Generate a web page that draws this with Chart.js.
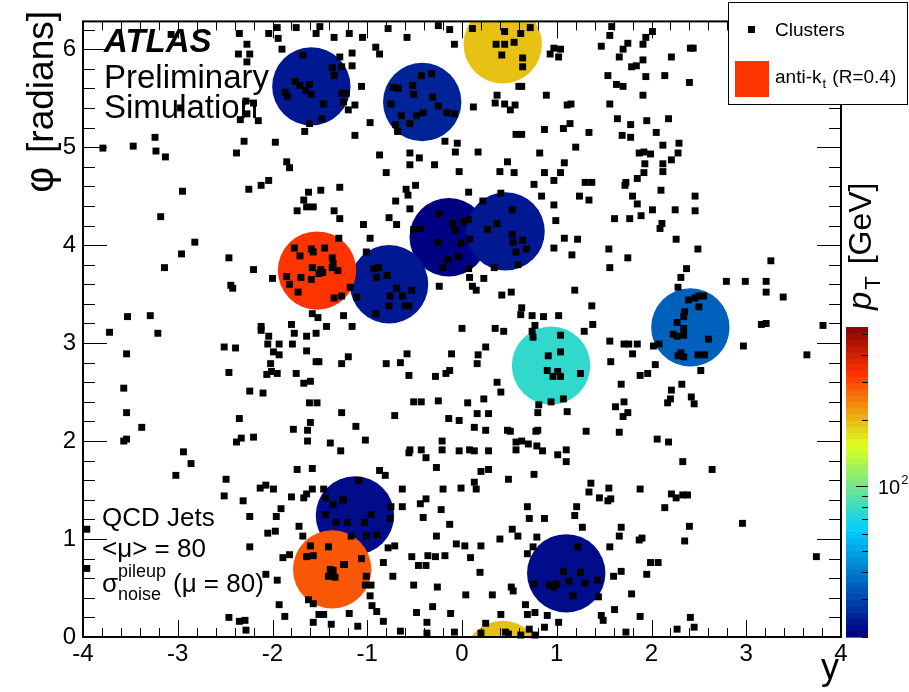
<!DOCTYPE html>
<html>
<head>
<meta charset="utf-8">
<script src="https://cdn.jsdelivr.net/npm/chart.js@4"></script>
<style>
  html, body { margin: 0; padding: 0; background: #fff; }
  #wrap { width: 909px; height: 692px; position: relative; }
</style>
</head>
<body>
<div id="wrap"><canvas id="c" width="909" height="692"></canvas></div>
<script>
// Axis tick values
const xTicks = [-4, -3, -2, -1, 0, 1, 2, 3, 4];
const phiTicks = [0, 1, 2, 3, 4, 5, 6];
const ptTicks = [20, 30, 40, 50, 60, 70, 80, 90, 100, 200, 300, 400, 500];
const ptRange = [20, 540];

// Jets: rapidity, azimuth and transverse momentum [GeV]
const jetY   = [-1.59, -0.42, 0.43, -1.53, -0.77, -0.14, 0.46, 0.94, 2.41, -1.13, -1.37, 1.10];
const jetPhi = [ 5.62,  5.46, 6.05,  3.74,  3.60,  4.08, 4.14, 2.77, 3.16,  1.24,  0.69, 0.65];
const jetPt  = [ 23.2,  24.8,  191,   324,  23.4,  20.5, 24.0, 76.0, 34.5,  22.4,   284, 22.4];
const jetR = 0.4;

// Topo-clusters: [rapidity, azimuth]
const clusterPoints = [
[-1.95,6.22],[-1.75,6.22],[-1.50,6.23],[-2.35,6.16],[-2.04,6.16],[-1.94,6.11],[-1.54,6.16],[-1.35,6.12],
[-3.07,6.15],[-2.27,6.05],[-2.36,5.95],[-2.24,5.95],[-1.90,6.00],[-2.27,5.87],[-1.68,5.94],[-1.29,5.92],
[-1.37,5.81],[-1.27,5.82],[-1.35,5.73],[-1.76,5.67],[-1.71,5.63],[-1.61,5.64],[-1.65,5.58],[-1.59,5.54],
[-1.87,5.56],[-1.84,5.52],[-1.27,5.55],[-1.46,5.44],[-1.25,5.46],[-1.48,5.29],[-1.61,5.24],[-1.66,5.16],
[-2.28,5.47],[-2.20,5.45],[-2.27,5.34],[-2.34,5.28],[-2.15,5.27],[-2.97,5.40],[-3.24,5.10],[-3.47,5.01],
[-3.79,4.99],[-3.23,4.96],[-3.13,4.90],[-2.30,5.06],[-2.38,4.94],[-1.97,5.05],[-1.85,4.85],[-1.82,4.79],
[-2.95,4.55],[-2.25,4.57],[-2.12,4.61],[-2.04,4.66],[-1.62,4.54],[-1.49,4.56],[-1.29,4.59],[-1.67,4.46],
[-1.64,4.39],[-1.57,4.39],[-1.74,4.35],[-1.35,4.35],[-1.29,4.27],[-3.18,4.29],
[-0.78,6.21],[-0.25,6.24],[-0.13,6.20],[0.11,6.21],[0.45,6.18],[0.62,6.16],[0.72,6.22],[-1.19,6.16],
[-1.05,6.12],[-0.58,6.12],[-0.08,6.05],[0.36,6.05],[0.45,6.05],[0.55,6.07],[0.42,5.94],[0.64,5.91],
[0.64,5.82],[-0.91,6.02],[-0.87,5.95],[-1.16,5.96],[-1.16,5.83],[0.97,6.01],[1.04,6.00],[0.93,5.95],
[1.02,5.92],[-0.43,5.73],[-0.32,5.75],[-0.52,5.63],[-0.73,5.61],[-0.67,5.60],[-0.51,5.54],[-0.31,5.51],
[-0.25,5.42],[-0.75,5.44],[-0.41,5.35],[-0.48,5.32],[-0.16,5.35],[-0.08,5.34],[-0.64,5.32],[-0.55,5.24],
[-0.70,5.23],[-0.68,5.16],[-1.06,5.62],[-1.22,5.55],[-1.20,5.38],[-1.13,5.43],[-0.97,5.25],[-1.13,5.12],
[0.63,5.62],[0.60,5.62],[0.37,5.53],[0.35,5.45],[0.45,5.44],[0.51,5.38],[0.56,5.43],[0.12,5.41],
[0.89,5.53],[1.11,5.43],[1.15,5.44],[1.14,5.24],[1.07,5.19],[0.87,5.18],[0.57,5.13],[0.63,5.13],
[1.34,5.15],[-0.18,5.06],[-0.05,5.04],[-0.07,4.95],[0.17,4.95],[-0.87,4.92],[-0.55,4.94],[-0.45,4.89],
[-0.55,4.82],[-0.29,4.82],[-0.80,4.74],[-0.03,4.75],[0.82,4.94],[1.20,5.00],[0.48,4.85],[0.40,4.75],
[0.55,4.74],[0.87,4.74],[1.08,4.84],[1.04,4.74],[0.97,4.66],[1.30,4.64],[1.37,4.64],[0.76,4.62],
[-0.59,4.57],[-0.57,4.51],[-0.49,4.61],[0.07,4.54],[-0.70,4.45],[-0.55,4.37],[-0.77,4.28],[-0.69,4.21],
[-1.04,4.21],[0.22,4.45],[0.41,4.53],[0.53,4.36],[0.84,4.50],[1.24,4.50],[1.34,4.46],[0.97,4.41],
[0.99,4.25],[-0.24,4.32],[-0.10,4.22],[0.02,4.24],[0.07,4.26],[0.37,4.22],[0.27,4.16],[-0.51,4.16],
[-0.44,4.17],
[1.58,6.23],[2.01,6.18],[1.56,6.14],[1.94,6.12],[1.91,6.05],[1.47,6.03],[1.70,6.00],[1.75,6.06],
[2.41,6.01],[2.44,6.01],[1.66,5.92],[2.21,5.92],[1.91,5.89],[1.79,5.82],[1.84,5.83],[1.54,5.73],
[1.94,5.72],[2.14,5.73],[2.40,5.66],[1.63,5.64],[1.70,5.62],[1.91,5.53],[1.56,5.44],[1.64,5.29],
[1.78,5.23],[1.95,5.27],[2.18,5.29],[1.69,5.12],[1.78,5.10],[2.05,5.15],[2.12,5.02],[2.29,5.04],
[2.28,4.94],[1.87,4.94],[1.92,4.95],[1.99,4.93],[1.93,4.83],[2.12,4.83],[2.21,4.87],[1.92,4.74],
[2.12,4.75],[1.85,4.68],[1.73,4.64],[1.72,4.61],[2.10,4.56],[2.46,4.50],[1.80,4.50],[1.85,4.42],
[2.01,4.36],[2.25,4.36],[2.46,4.35],[1.89,4.30],[1.61,4.27],[1.77,4.27],[2.11,4.22],[2.09,4.17],
[-2.82,4.03],[-2.96,3.91],[-3.14,3.77],[-2.46,3.87],[-2.20,3.75],[-2.44,3.59],[-2.42,3.56],[-2.00,3.66],
[-3.53,3.27],[-3.29,3.28],[-3.72,3.11],[-3.21,3.10],[-3.54,2.89],[-3.57,2.54],[-3.54,2.29],[-3.38,2.14],
[-1.77,3.97],[-1.59,3.96],[-1.57,3.93],[-1.45,3.97],[-1.30,4.07],[-1.71,3.89],[-1.37,3.87],[-1.36,3.81],
[-1.37,3.77],[-1.31,3.74],[-1.58,3.77],[-1.49,3.75],[-1.51,3.71],[-1.47,3.72],[-1.85,3.68],[-1.70,3.67],
[-1.59,3.65],[-1.82,3.60],[-1.73,3.52],[-1.35,3.46],[-1.27,3.48],
[-1.58,3.30],[-1.52,3.26],[-1.43,3.17],[-1.25,3.28],[-2.12,3.17],[-2.12,3.13],[-2.04,3.07],[-2.05,2.99],
[-1.93,2.99],[-1.99,2.91],[-1.93,2.88],[-1.80,3.19],[-1.77,3.10],[-1.64,3.07],[-1.54,3.10],[-1.79,2.99],
[-1.64,2.92],[-1.54,2.81],[-1.51,2.81],[-1.27,2.79],[-2.02,2.79],[-2.01,2.71],[-2.06,2.68],[-1.95,2.69],
[-1.75,2.69],[-1.67,2.59],[-1.60,2.61],[-2.51,2.96],[-2.39,2.95],[-2.46,2.70],[-2.24,2.51],[-2.10,2.49],
[-1.61,2.39],[-1.53,2.39],[-1.27,2.29],[-2.35,2.23],[-1.60,2.19],[-1.78,2.12],[-1.63,2.11],
[-0.97,4.07],[-1.01,3.93],[-1.18,3.57],[-1.11,3.47],[-0.93,3.76],[-0.88,3.77],[-0.90,3.67],[-0.79,3.69],
[-0.69,3.56],[-0.53,3.54],[-0.76,3.48],[-0.63,3.48],[-0.77,3.38],[-0.60,3.38],[-0.56,3.38],[-0.91,3.30],
[-1.16,3.17],[-1.20,2.86],[-1.12,2.15],
[-0.07,4.15],[-0.25,4.03],[-0.01,4.02],[0.08,4.06],[-0.15,3.85],[-0.04,3.88],[-0.20,3.77],[0.07,3.76],
[0.53,4.11],[0.54,4.03],[0.64,4.05],[0.57,3.93],[0.68,3.96],[0.59,3.80],[0.34,3.77],
[0.08,3.67],[0.23,3.66],[-0.24,3.58],[0.11,3.58],[0.15,3.54],[0.42,3.49],[0.52,3.52],[1.08,4.07],
[1.22,4.06],[0.97,3.97],[1.16,3.90],[1.19,3.54],[1.37,3.38],[0.63,3.36],[0.62,3.29],[0.74,3.28],
[0.86,3.27],[1.02,3.28],[0.77,3.18],[0.74,3.12],[0.75,3.06],[1.29,3.12],[1.38,3.19],[0.00,3.15],
[0.35,3.15],[0.44,3.12],[0.25,2.96],[0.17,2.88],[0.16,2.79],[-0.11,2.89],[-0.58,2.89],[-0.65,2.80],
[-0.80,2.79],[-0.56,2.67],[-0.28,2.66],[-0.17,2.69],[-0.13,2.72],
[1.04,3.08],[0.91,2.87],[1.04,2.91],[0.90,2.72],[0.96,2.66],[1.01,2.71],[1.04,2.66],[1.25,2.69],
[0.94,2.40],[1.07,2.43],
[0.37,2.60],[0.41,2.50],[-0.51,2.40],[-0.43,2.40],[-0.25,2.41],[0.06,2.39],[0.23,2.43],[-0.71,2.26],
[0.16,2.28],[0.28,2.28],[-0.14,2.23],[-0.03,2.21],[0.13,2.14],[0.25,2.11],[0.48,2.11],[0.51,2.10],
[0.81,2.37],[0.80,2.29],[1.11,2.30],[0.78,2.10],[0.80,2.11],[1.31,2.10],
[2.26,4.06],[2.49,3.96],[1.55,3.96],[1.75,3.87],[1.56,3.77],[2.37,3.76],[2.31,3.67],[2.28,3.57],
[3.26,3.84],[2.79,3.63],[2.99,3.63],[3.21,3.63],[3.21,3.52],[3.39,3.47],
[2.39,3.44],[2.46,3.46],[2.50,3.48],[2.55,3.48],[2.50,3.37],[2.35,3.32],[2.34,3.27],[2.27,3.21],
[2.34,3.15],[2.23,3.09],[2.27,3.07],[2.34,3.08],[2.60,3.04],[2.31,2.90],[2.28,2.87],[2.34,2.86],
[2.49,2.88],[2.56,2.88],
[3.16,3.19],[3.21,3.20],[3.81,3.18],[2.97,2.97],[3.64,2.88],[2.52,2.72],[1.56,3.02],[1.71,2.99],
[1.76,2.99],[1.85,2.99],[1.80,2.89],[1.57,2.81],[2.02,2.97],[2.08,2.99],[2.04,2.78],[1.96,2.69],
[1.88,2.67],[1.68,2.58],[2.32,2.58],[2.21,2.52],[2.20,2.43],[2.17,2.39],[2.42,2.45],[2.45,2.38],
[1.71,2.40],[1.62,2.35],[1.75,2.29],[1.70,2.25],[1.66,2.09],
[-3.54,2.02],[-3.57,2.00],[-2.38,1.99],[-2.33,2.03],[-2.20,2.04],[-1.63,2.00],[-1.39,1.98],[-1.28,1.90],
[-2.94,1.89],[-2.86,1.77],[-3.02,1.65],[-2.49,1.61],[-1.74,1.71],[-1.58,1.72],[-2.13,1.52],[-2.07,1.55],
[-1.99,1.51],[-2.51,1.44],[-2.31,1.39],[-1.80,1.43],[-1.67,1.42],[-1.64,1.46],[-1.58,1.51],[-1.46,1.51],
[-1.44,1.42],[-1.36,1.35],[-1.26,1.40],[-1.44,1.25],[-1.33,1.17],[-1.91,1.31],[-1.96,1.23],[-2.24,1.23],
[-1.72,1.13],[-1.68,1.03],[-2.05,1.06],[-1.97,1.08],[-3.96,1.10],[-3.96,0.70],[-2.24,0.92],[-1.60,0.93],
[-1.41,0.92],[-1.64,0.82],[-1.57,0.83],[-1.89,0.81],[-1.82,0.84],[-2.07,0.64],[-1.95,0.58],[-1.39,0.69],
[-1.41,0.62],[-1.34,0.61],[-1.36,0.68],[-1.25,0.74],[-1.62,0.38],[-1.57,0.34],[-1.51,0.23],[-1.46,0.23],
[-1.57,0.15],[-1.38,0.13],[-1.93,0.33],[-1.87,0.21],[-2.46,0.20],[-2.35,0.16],[-2.29,0.17],[-2.28,0.07],
[-1.02,2.01],[-0.55,1.91],[-0.56,1.88],[-0.43,1.91],[-0.38,1.83],[-0.21,2.00],[-0.21,1.91],[-0.03,1.90],
[0.08,1.91],[0.13,1.90],[0.28,1.90],[0.57,1.99],[0.63,2.00],[0.70,1.97],[0.57,1.91],[0.79,1.95],
[0.85,1.90],[1.01,1.86],[1.10,1.91],[1.10,1.79],[-0.87,1.70],[-0.81,1.65],[-0.27,1.73],[0.20,1.69],
[0.28,1.71],[0.49,1.61],[0.76,1.66],[0.13,1.58],[0.15,1.51],[-0.01,1.52],[-0.20,1.51],[-0.63,1.51],
[1.36,1.57],[1.34,1.48],[-0.38,1.41],[-0.44,1.36],[-0.63,1.33],[-0.22,1.30],[-0.41,1.22],[-0.13,1.15],
[0.69,1.33],[0.71,1.21],[0.87,1.21],[1.21,1.33],[1.19,1.24],[1.27,1.12],[0.53,1.10],[0.59,1.03],
[0.79,1.02],[0.40,1.00],[-0.27,1.03],[-0.06,0.95],[0.03,0.93],[0.20,0.93],[0.75,0.92],[0.69,0.85],
[-0.53,0.82],[-0.36,0.83],[-0.28,0.82],[-0.18,0.83],[0.09,0.81],[-0.46,0.73],[-0.38,0.73],[-0.83,0.76],
[-0.73,0.62],[0.19,0.66],[-0.51,0.53],[-0.26,0.51],[0.04,0.43],[0.32,0.43],[0.52,0.51],[0.54,0.47],
[-0.31,0.31],[-0.12,0.24],[-0.48,0.25],[0.41,0.23],[0.67,0.33],[0.69,0.23],[0.77,0.25],[-0.37,0.15],
[-0.37,0.04],[-0.65,0.06],[-0.08,0.05],[-0.83,0.16],[-0.90,0.26],[-0.95,0.32],[-0.97,0.42],[-1.19,0.24],
[-1.10,0.11],[0.87,0.10],[1.02,0.15],[0.71,0.08],[0.20,0.04],[0.25,0.14],[0.46,0.05],[0.49,0.03],
[0.62,0.02],[0.77,0.02],
[-1.09,1.60],[-1.25,1.40],[-0.96,1.25],[-0.75,1.33],[-0.76,1.21],[-1.03,1.17],[-1.21,1.17],[-1.17,1.03],
[-1.01,1.03],[-0.90,1.04],[-0.71,0.93],[-0.78,0.91],
[-1.06,0.80],[-1.24,0.74],[-1.01,0.62],[-1.02,0.53],[-0.96,0.53],
[1.22,0.92],[1.07,0.67],[1.25,0.66],[0.76,0.54],[0.92,0.53],[0.97,0.51],[1.00,0.54],[1.13,0.57],
[1.30,0.55],[1.17,0.42],[0.90,0.22],
[2.06,2.02],[2.18,1.99],[2.33,1.79],[2.64,1.71],[1.55,1.52],[1.45,1.42],[1.54,1.39],[1.57,1.41],
[1.88,1.51],[2.21,1.46],[2.26,1.42],[2.33,1.45],[2.38,1.45],[2.14,1.32],[1.68,1.12],[1.66,1.03],
[2.40,1.13],[2.96,1.16],[2.35,0.98],[1.87,0.99],[1.90,1.01],[1.56,0.92],[3.74,0.82],[1.99,0.76],
[2.07,0.76],[1.68,0.67],[1.60,0.62],[1.95,0.64],[1.43,0.58],[1.44,0.41],[1.79,0.44],[1.61,0.28],
[1.47,0.22],[1.49,0.17],[1.88,0.21],[2.41,0.20],[2.45,0.10],[2.27,0.08],[1.73,0.05]
];

// Colour palette (stops and RGB fractions) used for jet pT
const paletteStops = [0.00, 0.34, 0.61, 0.84, 1.00];
const paletteRed   = [0.00, 0.00, 0.87, 1.00, 0.51];
const paletteGreen = [0.00, 0.81, 1.00, 0.20, 0.00];
const paletteBlue  = [0.51, 1.00, 0.12, 0.00, 0.00];
const nContours = 50;

function paletteAt(f) {
  f = Math.max(0, Math.min(1, f));
  let k = 1;
  while (k < paletteStops.length - 1 && f > paletteStops[k]) k++;
  const t = (f - paletteStops[k - 1]) / (paletteStops[k] - paletteStops[k - 1]);
  const c = arr => Math.round(255 * (arr[k - 1] + t * (arr[k] - arr[k - 1])));
  return `rgb(${c(paletteRed)},${c(paletteGreen)},${c(paletteBlue)})`;
}
function ptFraction(pt) {
  const lo = Math.log10(ptRange[0]), hi = Math.log10(ptRange[1]);
  return (Math.log10(pt) - lo) / (hi - lo);
}
function bandColor(i) { return paletteAt(i / nContours); }
function ptColor(pt) {
  const i = Math.max(0, Math.min(nContours - 1, Math.floor(ptFraction(pt) * nContours)));
  return bandColor(i);
}

const FONT = "'Liberation Sans', Arial, Helvetica, sans-serif";

// Jet catchment areas, drawn beneath the clusters (softest first)
const jetAreas = {
  id: 'jetAreas',
  beforeDatasetsDraw(chart) {
    const { ctx, chartArea: a, scales: { x, y } } = chart;
    const r = Math.abs(y.getPixelForValue(jetR) - y.getPixelForValue(0));
    const order = jetPt.map((p, i) => i).sort((i, j) => jetPt[i] - jetPt[j]);
    ctx.save();
    ctx.beginPath();
    ctx.rect(a.left, a.top, a.width, a.height);
    ctx.clip();
    for (const i of order) {
      ctx.fillStyle = ptColor(jetPt[i]);
      for (const wrap of [-2 * Math.PI, 0, 2 * Math.PI]) {
        ctx.beginPath();
        ctx.arc(x.getPixelForValue(jetY[i]), y.getPixelForValue(jetPhi[i] + wrap), r, 0, 2 * Math.PI);
        ctx.fill();
      }
    }
    ctx.restore();
  }
};

// Frame with inward ticks on all four sides
const frameTicks = {
  id: 'frameTicks',
  afterDatasetsDraw(chart) {
    const { ctx, chartArea: a, scales: { x, y } } = chart;
    const seg = (x0, y0, x1, y1) => { ctx.beginPath(); ctx.moveTo(x0, y0); ctx.lineTo(x1, y1); ctx.stroke(); };
    ctx.save();
    ctx.strokeStyle = '#000';
    ctx.lineWidth = 1;
    const xMinor = 0.2, phiMinor = 0.2;
    for (let i = 0; i <= Math.round((xTicks[xTicks.length - 1] - xTicks[0]) / xMinor); i++) {
      const v = xTicks[0] + i * xMinor;
      const px = Math.round(x.getPixelForValue(v)) + 0.5;
      const len = i % 5 === 0 ? 17 : 9;
      seg(px, a.bottom, px, a.bottom - len);
      seg(px, a.top, px, a.top + len);
    }
    for (let i = 0; phiTicks[0] + i * phiMinor <= y.max; i++) {
      const v = phiTicks[0] + i * phiMinor;
      const py = Math.round(y.getPixelForValue(v)) + 0.5;
      const len = i % 5 === 0 ? 24 : 12;
      seg(a.left, py, a.left + len, py);
      seg(a.right, py, a.right - len, py);
    }
    ctx.lineWidth = 2;
    ctx.strokeRect(a.left, a.top, a.width, a.height);
    ctx.restore();
  }
};

// Labels, legend, palette bar and titles
const annotations = {
  id: 'annotations',
  afterDraw(chart) {
    const { ctx, chartArea: a } = chart;
    ctx.save();
    ctx.fillStyle = '#000';
    ctx.textBaseline = 'alphabetic';
    ctx.textAlign = 'left';

    ctx.font = `italic bold 33px ${FONT}`;
    ctx.fillText('ATLAS', 104, 52);
    ctx.font = `33px ${FONT}`;
    ctx.fillText('Preliminary', 104, 88);
    ctx.fillText('Simulation', 104, 118);

    ctx.font = `26px ${FONT}`;
    ctx.fillText('QCD Jets', 102, 526);
    ctx.fillText('<μ> = 80', 102, 557);
    ctx.fillText('σ', 102, 592);
    ctx.fillText('(μ = 80)', 173, 592);
    ctx.font = `18px ${FONT}`;
    ctx.fillText('pileup', 118, 577);
    ctx.fillText('noise', 118, 600);

    // axis titles
    ctx.font = `36px ${FONT}`;
    ctx.textAlign = 'right';
    ctx.fillText('y', a.right - 2, 679);
    ctx.save();
    ctx.translate(53, 11);
    ctx.rotate(-Math.PI / 2);
    ctx.textAlign = 'right';
    ctx.font = `37px ${FONT}`;
    ctx.fillText('[radians]', 0, 0);
    const wr = ctx.measureText('[radians]').width;
    ctx.font = `40px ${FONT}`;
    ctx.fillText('φ', -wr - 14, 0);
    ctx.restore();

    // legend
    ctx.textAlign = 'left';
    const lg = { left: 728, top: 2, right: 907, bottom: 104 };
    ctx.fillStyle = '#fff';
    ctx.fillRect(lg.left, lg.top, lg.right - lg.left, lg.bottom - lg.top);
    ctx.strokeStyle = '#000';
    ctx.lineWidth = 1;
    ctx.strokeRect(lg.left + 0.5, lg.top + 0.5, lg.right - lg.left, lg.bottom - lg.top);
    ctx.fillStyle = '#000';
    ctx.fillRect(748, 26, 7, 7);
    ctx.font = `19px ${FONT}`;
    ctx.fillText('Clusters', 775, 36);
    const hardest = jetPt.indexOf(Math.max(...jetPt));
    ctx.fillStyle = ptColor(jetPt[hardest]);
    ctx.fillRect(735, 61, 34, 36);
    ctx.fillStyle = '#000';
    ctx.font = `19px ${FONT}`;
    ctx.fillText('anti-k', 775, 83);
    const w = ctx.measureText('anti-k').width;
    ctx.font = `13px ${FONT}`;
    ctx.fillText('t', 775 + w + 1, 88);
    const w2 = ctx.measureText('t').width;
    ctx.font = `19px ${FONT}`;
    ctx.fillText(' (R=0.4)', 775 + w + w2 + 2, 83);

    // palette bar
    const cb = { left: a.right + 5, right: a.right + 27, top: 327, bottom: a.bottom };
    const h = cb.bottom - cb.top;
    for (let i = 0; i < nContours; i++) {
      const y0 = cb.bottom - (i / nContours) * h;
      const y1 = cb.bottom - ((i + 1) / nContours) * h;
      ctx.fillStyle = bandColor(i);
      ctx.fillRect(cb.left, y1, cb.right - cb.left, y0 - y1 + 0.6);
    }
    ctx.strokeStyle = '#000';
    ctx.lineWidth = 1;
    for (const t of ptTicks) {
      const f = ptFraction(t);
      if (f < 0 || f > 1) continue;
      const py = Math.round(cb.bottom - f * h) + 0.5;
      const len = t === 100 ? 12 : 6;
      ctx.beginPath(); ctx.moveTo(cb.right, py); ctx.lineTo(cb.right - len, py); ctx.stroke();
    }
    const p100 = cb.bottom - ptFraction(100) * h;
    ctx.fillStyle = '#000';
    ctx.font = `20px ${FONT}`;
    ctx.fillText('10', cb.right + 10, p100 + 8);
    const w10 = ctx.measureText('10').width;
    ctx.font = `13px ${FONT}`;
    ctx.fillText('2', cb.right + 10 + w10 + 1, p100 - 2);

    // palette title
    ctx.save();
    ctx.translate(871, 310);
    ctx.rotate(-Math.PI / 2);
    ctx.textAlign = 'left';
    ctx.font = `italic 33px ${FONT}`;
    ctx.fillText('p', 0, 0);
    let u = ctx.measureText('p').width + 2;
    ctx.font = `22px ${FONT}`;
    ctx.fillText('T', u, 9);
    u += ctx.measureText('T').width;
    ctx.font = `32px ${FONT}`;
    ctx.fillText(' [GeV]', u + 3, 0);
    ctx.restore();

    ctx.restore();
  }
};

new Chart(document.getElementById('c'), {
  type: 'scatter',
  data: {
    datasets: [{
      label: 'Clusters',
      data: clusterPoints.map(([yv, phi]) => ({ x: yv, y: phi })),
      pointStyle: 'rect',
      pointRadius: 4.9,
      pointHoverRadius: 4.9,
      pointBackgroundColor: '#000',
      pointBorderWidth: 0,
      clip: false
    }]
  },
  options: {
    responsive: false,
    devicePixelRatio: 1,
    animation: false,
    events: [],
    layout: { padding: { left: 0, top: 18, right: 68, bottom: 0 } },
    plugins: { legend: { display: false }, tooltip: { enabled: false } },
    scales: {
      x: {
        type: 'linear', min: xTicks[0], max: xTicks[xTicks.length - 1],
        afterBuildTicks: s => { s.ticks = xTicks.map(v => ({ value: v })); },
        afterFit: s => { s.height = 55; },
        grid: { display: false, drawTicks: false },
        border: { display: false },
        ticks: { color: '#000', font: { family: FONT, size: 24 }, padding: 3, maxRotation: 0, autoSkip: false }
      },
      y: {
        type: 'linear', min: 0, max: 2 * Math.PI,
        afterBuildTicks: s => { s.ticks = phiTicks.map(v => ({ value: v })); },
        afterFit: s => { s.width = 83; },
        grid: { display: false, drawTicks: false },
        border: { display: false },
        ticks: { color: '#000', font: { family: FONT, size: 24 }, padding: 7, autoSkip: false }
      }
    }
  },
  plugins: [jetAreas, frameTicks, annotations]
});
</script>
</body>
</html>
